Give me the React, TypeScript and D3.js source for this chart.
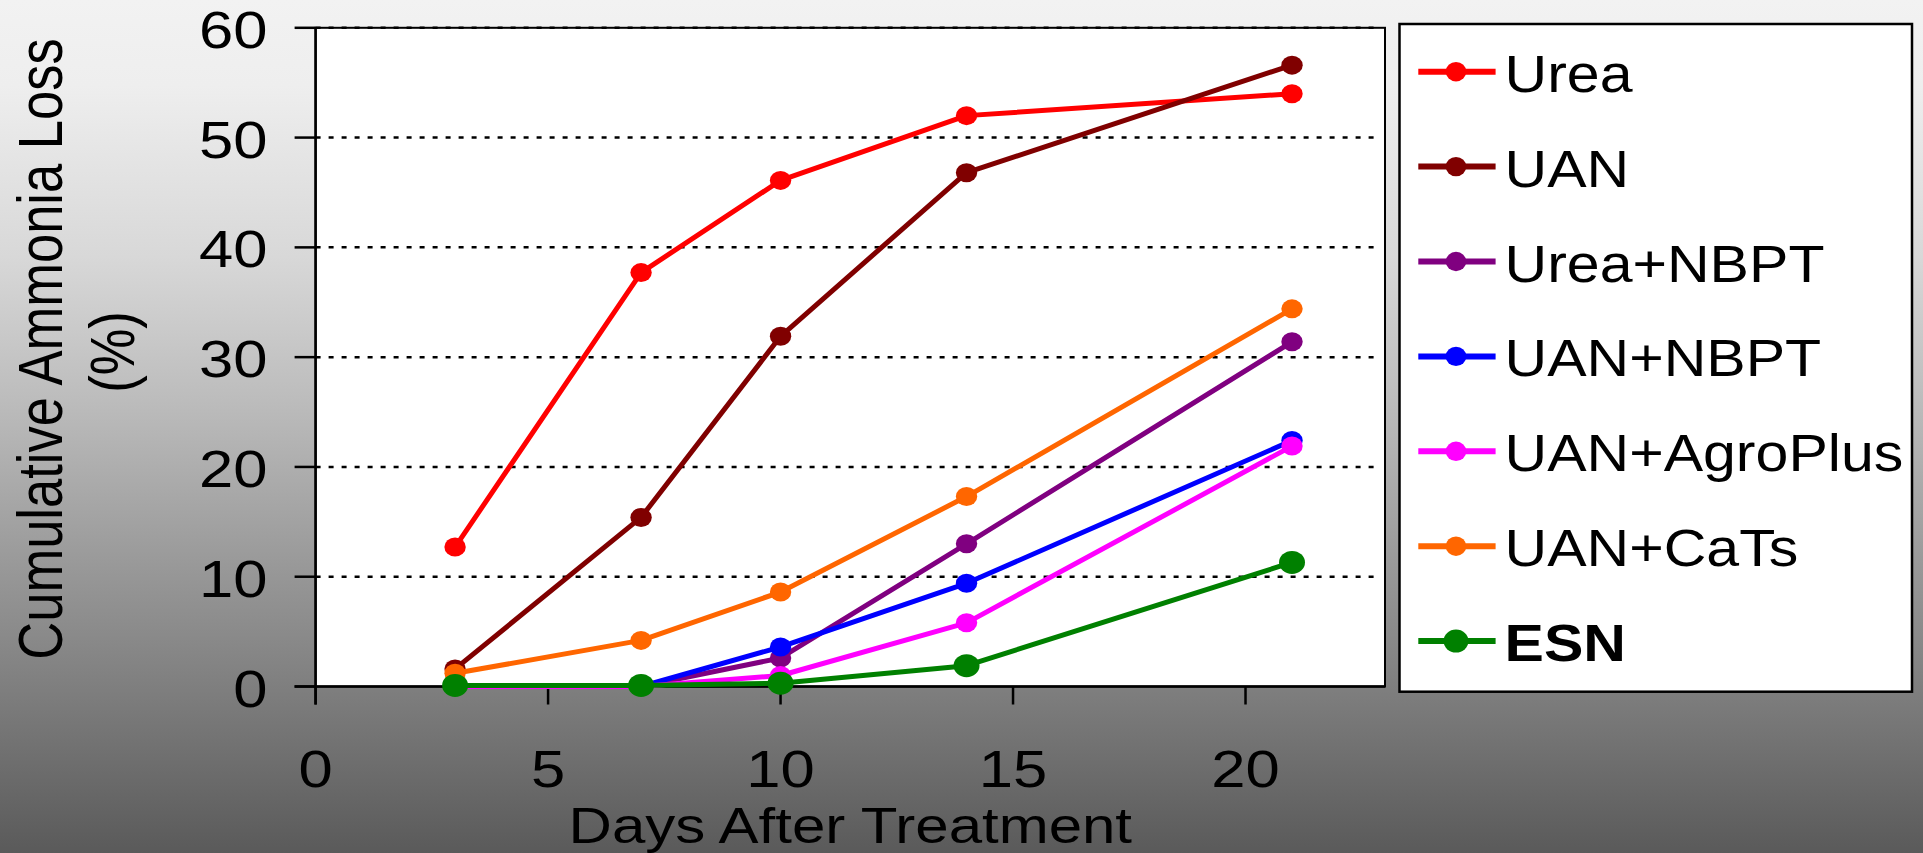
import React from 'react';
import * as d3 from 'd3';

// Sampling days after treatment
const days = [3, 7, 10, 14, 21];

// Cumulative ammonia loss (%) per treatment
const urea = [12.7, 37.7, 46.1, 52.0, 54.0];
const uan = [1.6, 15.4, 31.9, 46.8, 56.6];
const ureaNbpt = [0, 0, 2.6, 13.0, 31.4];
const uanNbpt = [0, 0, 3.6, 9.4, 22.4];
const uanAgroPlus = [0, 0, 1.0, 5.8, 21.9];
const uanCaTs = [1.2, 4.2, 8.6, 17.3, 34.4];
const esn = [0.1, 0.1, 0.3, 1.9, 11.3];

const seriesNames = ['Urea', 'UAN', 'Urea+NBPT', 'UAN+NBPT', 'UAN+AgroPlus', 'UAN+CaTs', 'ESN'];
const seriesColors = ['#ff0000', '#800000', '#800080', '#0000ff', '#ff00ff', '#ff6600', '#008000'];
const seriesValues = [urea, uan, ureaNbpt, uanNbpt, uanAgroPlus, uanCaTs, esn];

const xTicks = [0, 5, 10, 15, 20];
const yTicks = [0, 10, 20, 30, 40, 50, 60];
const gridTicks = [10, 20, 30, 40, 50, 60];

const W = 1923;
const H = 853;
const FONT = '"Liberation Sans", Arial, Helvetica, sans-serif';

const plot = { left: 315.6, right: 1385, top: 27.8, bottom: 686.5 };

export default function App() {
  const x = d3.scaleLinear().domain([0, 23]).range([plot.left, plot.right]);
  const y = d3.scaleLinear().domain([0, 60]).range([plot.bottom, plot.top]);

  const line = d3
    .line<[number, number]>()
    .x((d) => x(d[0]))
    .y((d) => y(d[1]));

  const series = seriesNames.map((name, i) => ({
    name,
    color: seriesColors[i],
    bold: name === 'ESN',
    points: days.map((d, j) => [d, seriesValues[i][j]] as [number, number]),
  }));

  const legend = { x: 1399.5, y: 24, w: 512.5, h: 667.7, first: 71.7, step: 94.9 };

  return (
    <svg
      width={W}
      height={H}
      viewBox={`0 0 ${W} ${H}`}
      style={{ position: 'absolute', left: 0, top: 0, display: 'block' }}
    >
      <defs>
        <linearGradient id="bg" x1="0" y1="0" x2="0" y2="1">
          <stop offset="0" stopColor="#f2f2f2" />
          <stop offset="0.1" stopColor="#eeeeee" />
          <stop offset="0.3" stopColor="#d8d8d8" />
          <stop offset="0.47" stopColor="#bcbcbc" />
          <stop offset="0.82" stopColor="#7c7c7c" />
          <stop offset="1" stopColor="#5a5a5a" />
        </linearGradient>
      </defs>
      <rect x={0} y={0} width={W} height={H} fill="url(#bg)" />

      {/* plot area */}
      <rect
        x={plot.left}
        y={plot.top}
        width={plot.right - plot.left}
        height={plot.bottom - plot.top}
        fill="#ffffff"
        stroke="#000"
        strokeWidth={2}
      />

      {/* dotted gridlines */}
      {gridTicks.map((t) => (
        <line
          key={`g${t}`}
          x1={plot.left}
          x2={plot.right - 4}
          y1={y(t)}
          y2={y(t)}
          stroke="#000"
          strokeWidth={2.5}
          strokeDasharray="5,8"
        />
      ))}

      {/* axes */}
      <line x1={plot.left} x2={plot.left} y1={plot.top} y2={plot.bottom + 18} stroke="#000" strokeWidth={2.5} />
      <line x1={plot.left - 21} x2={plot.right} y1={plot.bottom} y2={plot.bottom} stroke="#000" strokeWidth={2.5} />

      {yTicks.map((t) => (
        <g key={`y${t}`}>
          <line x1={plot.left - 21} x2={plot.left} y1={y(t)} y2={y(t)} stroke="#000" strokeWidth={2.5} />
          <text
            transform={`translate(267.5,${y(t) + 20}) scale(1.2,1)`}
            textAnchor="end"
            fontFamily={FONT}
            fontSize={51.3}
            fill="#000"
          >
            {t}
          </text>
        </g>
      ))}

      {xTicks.map((t) => (
        <g key={`x${t}`}>
          <line x1={x(t)} x2={x(t)} y1={plot.bottom} y2={plot.bottom + 18} stroke="#000" strokeWidth={2.5} />
          <text
            transform={`translate(${x(t)},786.7) scale(1.2,1)`}
            textAnchor="middle"
            fontFamily={FONT}
            fontSize={51.3}
            fill="#000"
          >
            {t}
          </text>
        </g>
      ))}

      {/* axis titles */}
      <text
        transform={`translate(${(plot.left + plot.right) / 2},843) scale(1.2,1)`}
        textAnchor="middle"
        fontFamily={FONT}
        fontSize={50}
        fill="#000"
      >
        Days After Treatment
      </text>
      <text
        transform="translate(61.7,349) rotate(-90) scale(1,1.2)"
        textAnchor="middle"
        fontFamily={FONT}
        fontSize={52.5}
        fill="#000"
      >
        Cumulative Ammonia Loss
      </text>
      <text
        transform="translate(134.4,352) rotate(-90) scale(1,1.2)"
        textAnchor="middle"
        fontFamily={FONT}
        fontSize={52.5}
        fill="#000"
      >
        (%)
      </text>

      {/* series */}
      {series.map((s) => (
        <g key={s.name}>
          <path d={line(s.points) || ''} fill="none" stroke={s.color} strokeWidth={5} strokeLinejoin="round" />
          {s.points.map((p, j) => (
            <ellipse
              key={j}
              cx={x(p[0])}
              cy={y(p[1])}
              rx={s.bold ? 13 : 10.7}
              ry={s.bold ? 11.5 : 9.5}
              fill={s.color}
            />
          ))}
        </g>
      ))}

      {/* legend */}
      <rect x={legend.x} y={legend.y} width={legend.w} height={legend.h} fill="#ffffff" stroke="#000" strokeWidth={2.5} />
      {series.map((s, i) => {
        const cy = legend.first + i * legend.step;
        return (
          <g key={`l${s.name}`}>
            <line x1={1418.3} x2={1495.6} y1={cy} y2={cy} stroke={s.color} strokeWidth={6} />
            <ellipse cx={1456} cy={cy} rx={s.bold ? 12.5 : 10.3} ry={s.bold ? 11.5 : 9.7} fill={s.color} />
            <text
              transform={`translate(1504.5,${cy + 20}) scale(1.136,1)`}
              fontFamily={FONT}
              fontSize={52}
              fontWeight={s.bold ? 'bold' : 'normal'}
              fill="#000"
            >
              {s.name}
            </text>
          </g>
        );
      })}
    </svg>
  );
}
